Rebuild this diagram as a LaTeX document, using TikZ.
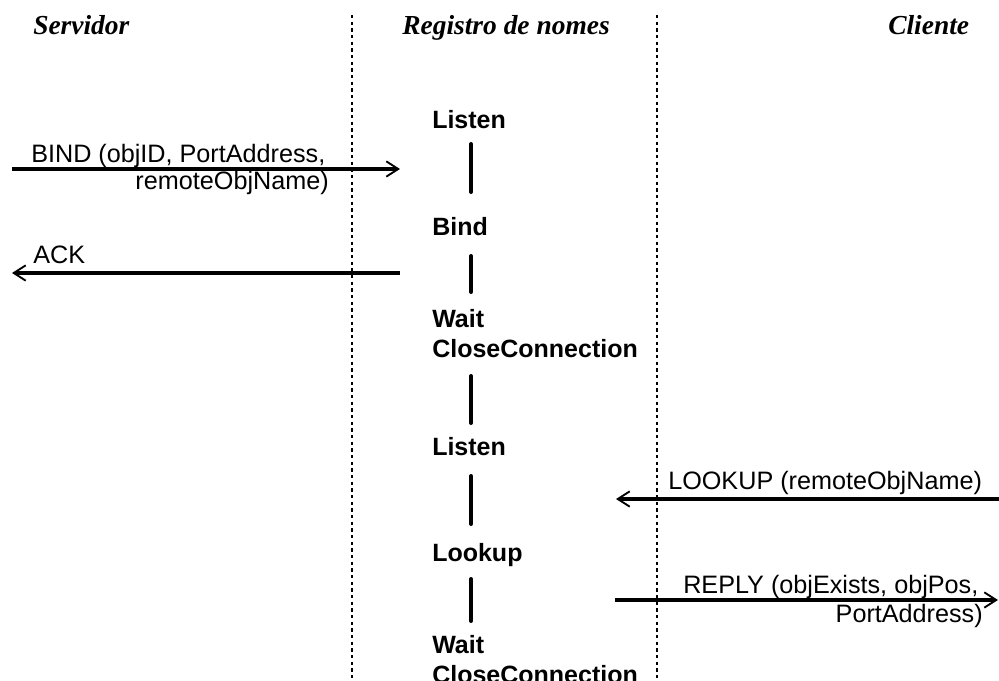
\documentclass[tikz,border=0pt]{standalone}
\usepackage{fontspec}
\setmainfont{Liberation Sans}
\newfontfamily\headfont{Liberation Serif}
\usetikzlibrary{arrows.meta}

\tikzset{
  lane/.style={line width=1.7pt, dash pattern=on 2.6pt off 2.4pt},
  msg/.style={line width=2.3pt, -{Straight Barb[length=9pt, width=11.5pt, line width=1.4pt]}},
  bar/.style={line width=3pt, line cap=round},
  head/.style={inner sep=0pt, anchor=base west, font=\headfont\bfseries\itshape\fontsize{20.6pt}{24pt}\selectfont},
  state/.style={inner sep=0pt, anchor=base west, font=\bfseries\fontsize{18.75pt}{22pt}\selectfont},
  lbl/.style={inner sep=0pt, font=\fontsize{18.9pt}{22pt}\selectfont},
}

\begin{document}
\begin{tikzpicture}[x=0.75pt, y=-0.75pt]
  \useasboundingbox (0,0) rectangle (999,681);

  % column headings
  \node[head] (hserv) at (33,35) {Servidor};
  \node[head] (hreg)  at (402,35) {Registro de nomes};
  \node[head] (hcli)  at (888,35) {Cliente};

  % swimlane separators
  \coordinate (l1t) at (352,15);  \coordinate (l1b) at (352,681);
  \coordinate (l2t) at (657,15);  \coordinate (l2b) at (657,681);
  \draw[lane] (l1t) -- (l1b);
  \draw[lane] (l2t) -- (l2b);

  % states of the name registry
  \node[state] (s1) at (432,129) {Listen};
  \node[state] (s2) at (432,235) {Bind};
  \node[state] (s3a) at (432,327) {Wait};
  \node[state] (s3b) at (432,357) {CloseConnection};
  \node[state] (s4) at (432,455) {Listen};
  \node[state] (s5) at (432,561) {Lookup};
  \node[state] (s6a) at (432,653) {Wait};
  \node[state] (s6b) at (432,683) {CloseConnection};

  % transitions between states
  \coordinate (b1a) at (471,144); \coordinate (b1b) at (471,192);
  \coordinate (b2a) at (471,256); \coordinate (b2b) at (471,292);
  \coordinate (b3a) at (471,376); \coordinate (b3b) at (471,423);
  \coordinate (b4a) at (471,476); \coordinate (b4b) at (471,524);
  \coordinate (b5a) at (471,579); \coordinate (b5b) at (471,621);
  \draw[bar] (b1a) -- (b1b);
  \draw[bar] (b2a) -- (b2b);
  \draw[bar] (b3a) -- (b3b);
  \draw[bar] (b4a) -- (b4b);
  \draw[bar] (b5a) -- (b5b);

  % messages
  \coordinate (bindS) at (12,169);  \coordinate (bindE) at (400,169);
  \draw[msg] (bindS) -- (bindE);
  \node[lbl, anchor=base west] (bind1) at (31,162) {BIND (objID, PortAddress,};
  \node[lbl, anchor=base east] (bind2) at (329,190) {remoteObjName)};

  \coordinate (ackS) at (400,273);  \coordinate (ackE) at (12,273);
  \draw[msg] (ackS) -- (ackE);
  \node[lbl, anchor=base west] (ack) at (33,263) {ACK};

  \coordinate (lookS) at (1001,499); \coordinate (lookE) at (616,499);
  \draw[msg] (lookS) -- (lookE);
  \node[lbl, anchor=base west] (look) at (668,489) {LOOKUP (remoteObjName)};

  \coordinate (repS) at (615,600); \coordinate (repE) at (998,600);
  \draw[msg] (repS) -- (repE);
  \node[lbl, anchor=base west] (rep1) at (683,593) {REPLY (objExists, objPos,};
  \node[lbl, anchor=base east] (rep2) at (983,622) {PortAddress)};
\end{tikzpicture}
\end{document}
